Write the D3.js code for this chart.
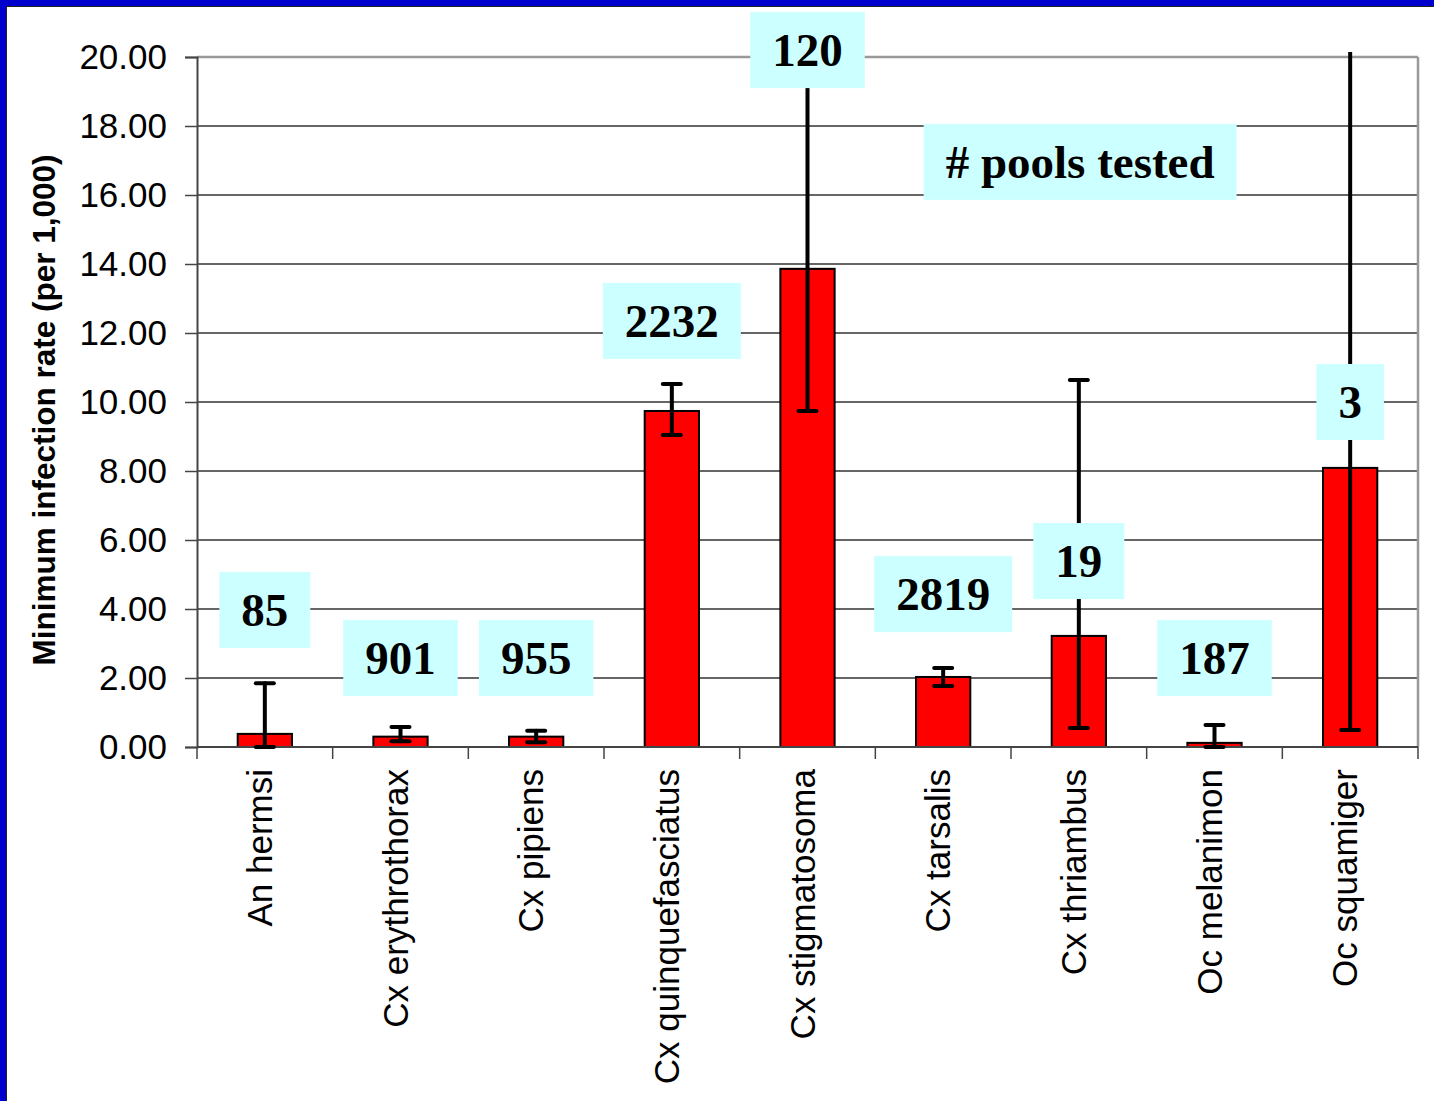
<!DOCTYPE html>
<html>
<head>
<meta charset="utf-8">
<script src="https://cdn.jsdelivr.net/npm/d3@7"></script>
<style>
  body { margin: 0; padding: 0; background: #fff; overflow: hidden; }
  svg { display: block; }
</style>
</head>
<body>
<script>
// Minimum infection rate by species, with # pools tested labels
const species = ["An hermsi", "Cx erythrothorax", "Cx pipiens", "Cx quinquefasciatus",
  "Cx stigmatosoma", "Cx tarsalis", "Cx thriambus", "Oc melanimon", "Oc squamiger"];
const rate = [0.38, 0.30, 0.30, 9.74, 13.86, 2.03, 3.22, 0.12, 8.09];
const errLow = [0.00, 0.17, 0.14, 9.04, 9.74, 1.77, 0.55, 0.00, 0.49];
const errHigh = [1.85, 0.58, 0.47, 10.52, 24.0, 2.29, 10.64, 0.64, 24.0];
const pools = ["85", "901", "955", "2232", "120", "2819", "19", "187", "3"];
const poolLabelY = [3.97, 2.58, 2.58, 12.35, 20.2, 4.43, 5.39, 2.58, 10.0];
const yTicks = [0, 2, 4, 6, 8, 10, 12, 14, 16, 18, 20];
const yTitle = "Minimum infection rate (per 1,000)";
const noteText = "# pools tested";
const noteY = 16.96;

const W = 1434, H = 1101;
const margin = { left: 197, top: 57, right: 16, bottom: 354 };

const svg = d3.select("body").append("svg")
  .attr("width", W)
  .attr("height", H);

svg.append("rect").attr("width", W).attr("height", H).attr("fill", "#fff");

const x = d3.scaleBand()
  .domain(species)
  .range([margin.left, W - margin.right])
  .paddingInner(0.6)
  .paddingOuter(0.3);

const y = d3.scaleLinear()
  .domain([0, 20])
  .range([H - margin.bottom, margin.top]);

const x0 = margin.left, x1 = W - margin.right;
const step = x.step();

// gridlines
svg.append("g")
  .selectAll("line")
  .data(yTicks.filter(d => d > 0))
  .join("line")
  .attr("x1", x0).attr("x2", x1)
  .attr("y1", d => y(d)).attr("y2", d => y(d))
  .attr("stroke", d => d === 20 ? "#999" : "#333")
  .attr("stroke-width", d => d === 20 ? 2.5 : 1.3);

// right border
svg.append("line")
  .attr("x1", x1).attr("x2", x1)
  .attr("y1", y(20)).attr("y2", y(0))
  .attr("stroke", "#999").attr("stroke-width", 2.5);

// bars
svg.append("g")
  .selectAll("rect")
  .data(species)
  .join("rect")
  .attr("x", d => x(d))
  .attr("width", x.bandwidth())
  .attr("y", (d, i) => y(rate[i]))
  .attr("height", (d, i) => y(0) - y(rate[i]))
  .attr("fill", "#ff0000")
  .attr("stroke", "#000")
  .attr("stroke-width", 2);

// y axis
const yAxis = svg.append("g")
  .attr("transform", `translate(${x0},0)`)
  .call(d3.axisLeft(y).tickValues(yTicks).tickFormat(d3.format(".2f")).tickSize(12).tickPadding(18));
yAxis.select(".domain").attr("stroke", "#444").attr("stroke-width", 2);
yAxis.selectAll(".tick line").attr("stroke", "#444").attr("stroke-width", 1.5);
yAxis.selectAll(".tick text")
  .attr("font-family", "Liberation Sans, Arial, sans-serif")
  .attr("font-size", 35)
  .attr("fill", "#000");

// x axis line + category boundary ticks
svg.append("line")
  .attr("x1", x0).attr("x2", x1)
  .attr("y1", y(0)).attr("y2", y(0))
  .attr("stroke", "#444").attr("stroke-width", 2);
svg.append("g")
  .selectAll("line")
  .data(d3.range(species.length + 1))
  .join("line")
  .attr("x1", i => x0 + i * step).attr("x2", i => x0 + i * step)
  .attr("y1", y(0)).attr("y2", y(0) + 12)
  .attr("stroke", "#444").attr("stroke-width", 1.5);

// category labels
svg.append("g")
  .selectAll("text")
  .data(species)
  .join("text")
  .attr("transform", d => `translate(${x(d) + x.bandwidth() / 2 + 7},${y(0) + 22}) rotate(-90)`)
  .attr("text-anchor", "end")
  .attr("font-family", "Liberation Sans, Arial, sans-serif")
  .attr("font-size", 35)
  .attr("fill", "#000")
  .text(d => d);

// y title
svg.append("text")
  .attr("transform", `translate(55,${(y(0) + y(20)) / 2 + 8}) rotate(-90)`)
  .attr("text-anchor", "middle")
  .attr("font-family", "Liberation Sans, Arial, sans-serif")
  .attr("font-weight", "bold")
  .attr("font-size", 31.5)
  .attr("fill", "#000")
  .text(yTitle);

// error bars, clipped a little above the plot top
svg.append("clipPath").attr("id", "errclip")
  .append("rect")
  .attr("x", 0).attr("y", y(20) - 5)
  .attr("width", W).attr("height", H);

const err = svg.append("g").attr("clip-path", "url(#errclip)")
  .selectAll("g")
  .data(species)
  .join("g")
  .attr("stroke", "#000")
  .attr("stroke-width", 4)
  .attr("stroke-linecap", "round");
const cx = d => x(d) + x.bandwidth() / 2;
err.append("line")
  .attr("x1", cx).attr("x2", cx)
  .attr("y1", (d, i) => y(errLow[i]))
  .attr("y2", (d, i) => y(errHigh[i]));
err.append("line")
  .attr("x1", d => cx(d) - 9).attr("x2", d => cx(d) + 9)
  .attr("y1", (d, i) => y(errLow[i])).attr("y2", (d, i) => y(errLow[i]));
err.append("line")
  .attr("x1", d => cx(d) - 9).attr("x2", d => cx(d) + 9)
  .attr("y1", (d, i) => y(errHigh[i])).attr("y2", (d, i) => y(errHigh[i]));

// pool count labels
function boxLabel(txt, cxp, cyp) {
  const g = svg.append("g");
  const rect = g.append("rect").attr("fill", "#ccffff");
  const t = g.append("text")
    .attr("x", cxp).attr("y", cyp)
    .attr("dy", "0.34em")
    .attr("text-anchor", "middle")
    .attr("font-family", "Liberation Serif, Times New Roman, serif")
    .attr("font-weight", "bold")
    .attr("font-size", 47)
    .attr("fill", "#000")
    .text(txt);
  const w = t.node().getComputedTextLength() + 44;
  rect.attr("x", cxp - w / 2).attr("y", cyp - 38)
    .attr("width", w).attr("height", 76);
}
species.forEach((d, i) => boxLabel(pools[i], cx(d), y(poolLabelY[i])));
boxLabel(noteText, x0 + 6.5 * step + 1.3, y(noteY));

// slide frame: blue border top and left
svg.append("rect").attr("x", 0).attr("y", 0).attr("width", W).attr("height", 6).attr("fill", "#0000cc");
svg.append("rect").attr("x", 0).attr("y", 0).attr("width", 6).attr("height", H).attr("fill", "#0000cc");
svg.append("line").attr("x1", 6).attr("x2", W).attr("y1", 6.5).attr("y2", 6.5).attr("stroke", "#222").attr("stroke-width", 1);
svg.append("line").attr("x1", 6.5).attr("x2", 6.5).attr("y1", 6).attr("y2", H).attr("stroke", "#222").attr("stroke-width", 1);
</script>
</body>
</html>
